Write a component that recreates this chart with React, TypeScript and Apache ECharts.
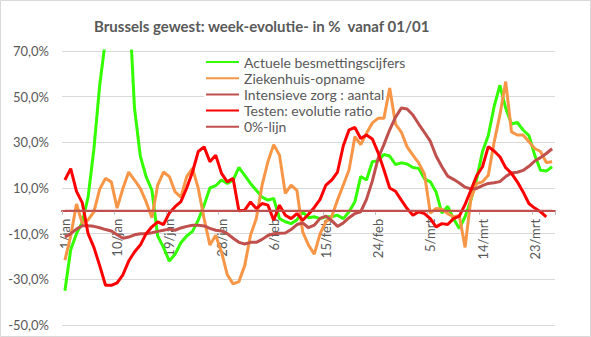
import React, { useEffect, useRef } from 'react';
import * as echarts from 'echarts';

const months = ['jan', 'feb', 'mrt'];
const daysShown = [31, 28, 26];
const categories: string[] = months.flatMap((m, k) =>
  Array.from({ length: daysShown[k] }, (_, d) => `${d + 1}/${m}`)
);

const yMin = -50;
const yMax = 70;
const yTicks = [-50, -30, -10, 10, 30, 50, 70];

const besmetting = [
  -35, -17, -10, -5, 6, 27, 55, 75, 90, 105, 110, 95, 45, 24, 15, 9, -11, -16, -22, -19, -14,
  -11, -9, -4, 2.5, 10, 11, 13.5, 12, 13.5, 19, 15.5, 12, 9, 6, 4.7, 5.4, -3.4, -4.8, -5.6, -4, -0.5,
  -3, -2.6, -3.4, -2.6, -2.6, -1.9, -3.4, -0.4, 4, 15, 13.5, 21.5, 22, 24.7, 24, 20.3, 21, 20.5, 19, 18.6,
  14, 12.7, 8.3, -1, 2, -3.4, -7.7, -2.6, 4.7, 14, 26, 33, 45.6, 55, 45, 38, 38.7, 35.4, 33, 24.4, 17.8, 17.4, 19.3,
];

const ziekenhuis = [
  -21.6, -11, 3, -5.5, -4, -0.5, 9.5, 14.2, 12.7, 1.2, 9.8, 17, 13.5, 9.8, 4, -3, 11.3, 17, 15, 8.3, 6,
  15, 18.6, 9.8, -3.4, -15, -10.7, -18, -28, -32, -31, -24, -10.7, -3.4, 11.3, 21.5, 29, 24.4, 7.6, 11.3, 9, -9.2,
  -15, -19, -10, -4.8, -2.6, 4.7, 11.3, 18, 32.5, 29, 34, 38.5, 40.5, 40.5, 53.8, 38, 34.5, 28, 24.4, 21,
  16, -1, 1, 0.7, -1.2, -2.6, -2.2, -16, 5.4, 12, 12.7, 15.6, 30, 42, 56.6, 34.6, 33.2, 33.2, 30.3, 27.3, 26, 21.2, 21.5,
];

const intensieve = [
  -11.5, -10, -8, -6.5, -6.5, -6.8, -7.4, -8.2, -8.8, -10.5, -12, -11.5, -10.5, -10, -10, -9.6, -9, -8.5, -8, -8.5, -7.5,
  -6.8, -6.3, -6.3, -6.6, -7.7, -8.5, -8.8, -10, -12, -13.8, -14.5, -13.8, -13.8, -12.5, -10.8, -10, -9.8, -9.7, -8.2, -6, -5.3,
  -7.4, -6.3, -3.3, -2.3, -4.3, -6.8, -5.3, -3, -1.2, -0.4, 5, 13, 23, 29, 35.5, 41, 45, 44.6, 42, 38,
  34.3, 30.5, 24, 19.3, 15.2, 13.8, 12.2, 10.3, 9.6, 9.8, 11, 12, 12.3, 12.8, 15, 16.6, 16.9, 17.7, 19.5, 21.8, 23.3, 25.1, 27.2,
];

const testen = [
  13.5, 18.5, 8.5, 3.5, -10, -16, -24, -32.6, -32.6, -31.5, -28, -22, -18, -15, -10, -7, -4.8, -6, -1, 1.8, 4,
  10, 17, 26, 28, 21.5, 24.4, 16.4, 12.7, 14.2, 0, 0.3, 3.9, 1, 3.2, 2.5, -4.1, 2.5, -1.9, -3.4, -1.2, -4.1,
  -1.5, 1.5, 5, 11.3, 13.5, 17, 28.5, 35.5, 36.5, 31.7, 33.2, 31.5, 25.5, 18, 10, 8.6, 4.7, 1, -1.9, -0.4,
  -1.2, -3.4, -7, -5.6, -6, -3.4, -2.3, 2.8, 9, 15.4, 19.3, 28.1, 26.2, 23.7, 18.9, 16.4, 12.7, 8.3, 3.2, 1.2, -0.4, -2.6, null,
];

const zeroLine = categories.map(() => 0);

const seriesNames = [
  'Actuele besmettingscijfers',
  'Ziekenhuis-opname',
  'Intensieve zorg : aantal',
  'Testen: evolutie ratio',
  '0%-lijn',
];
const seriesColors = ['#33FF00', '#F79646', '#C0504D', '#FF0000', '#C0504D'];
const seriesWidths = [3, 3, 3, 3, 2];
const seriesData = [besmetting, ziekenhuis, intensieve, testen, zeroLine];

const FONT = 'Lato, "Open Sans", sans-serif';
const TEXT = '#595959';

const GRID_TOP = 51;
const GRID_BOTTOM = 12;
const HEIGHT = 337;

export default function App() {
  const ref = useRef<HTMLDivElement>(null);
  useEffect(() => {
    if (!ref.current) return;
    const chart = echarts.init(ref.current, null, { renderer: 'svg' });
    const gridH = HEIGHT - GRID_TOP - GRID_BOTTOM;
    const zeroOffset = -((0 - yMin) / (yMax - yMin)) * gridH;
    chart.setOption({
      animation: false,
      backgroundColor: '#FFFFFF',
      title: {
        text: 'Brussels gewest: week-evolutie- in %  vanaf 01/01',
        left: 89,
        top: 13,
        textStyle: { fontFamily: FONT, fontSize: 15, fontWeight: 'bold', color: TEXT },
      },
      legend: {
        orient: 'vertical',
        left: 200,
        top: 50,
        itemWidth: 33,
        itemHeight: 14,
        itemGap: 2.2,
        selectedMode: false,
        data: seriesNames,
        itemStyle: { opacity: 0 },
        textStyle: { fontFamily: FONT, fontSize: 14, color: TEXT },
      },
      graphic: {
        elements: [
          {
            type: 'rect',
            z: 1,
            shape: { x: 204, y: 55, width: 181, height: 80 },
            style: { fill: '#FFFFFF' },
            silent: true,
          },
          {
            type: 'rect',
            z: 100,
            shape: { x: 0.5, y: 0.5, width: 590, height: 336 },
            style: { fill: 'none', stroke: '#D9D9D9', lineWidth: 1 },
            silent: true,
          },
        ],
      },
      grid: { left: 62, right: 36, top: GRID_TOP, bottom: GRID_BOTTOM, containLabel: false, outerBoundsMode: 'none' },
      xAxis: {
        type: 'category',
        data: categories,
        boundaryGap: true,
        offset: zeroOffset,
        axisLine: { onZero: false, lineStyle: { color: '#C0504D', width: 2 } },
        axisTick: { show: true, interval: 8, length: 4, lineStyle: { color: '#BFBFBF' } },
        axisLabel: {
          interval: 8,
          rotate: 90,
          margin: 8,
          fontFamily: FONT,
          fontSize: 13,
          color: TEXT,
        },
        splitLine: { show: false },
      },
      yAxis: {
        type: 'value',
        min: yMin,
        max: yMax,
        axisLine: { show: false },
        axisTick: { show: false, customValues: yTicks },
        axisLabel: {
          customValues: yTicks,
          margin: 13,
          fontFamily: FONT,
          fontSize: 13,
          color: TEXT,
          formatter: (v: number) => v.toFixed(1).replace('.', ',') + '%',
        },
        splitLine: { show: true, lineStyle: { color: '#D9D9D9', width: 1 } },
      },
      series: seriesNames.map((name, k) => ({
        name,
        type: 'line',
        data: seriesData[k],
        symbol: 'none',
        showSymbol: false,
        clip: true,
        connectNulls: false,
        lineStyle: { width: seriesWidths[k], color: seriesColors[k] },
        itemStyle: { color: seriesColors[k] },
        emphasis: { disabled: true },
        z: 2 + k * 0.01,
      })),
    });
    return () => chart.dispose();
  }, []);
  return (
    <div
      ref={ref}
      style={{ position: 'fixed', left: 0, top: 0, width: 591, height: 337 }}
    />
  );
}
